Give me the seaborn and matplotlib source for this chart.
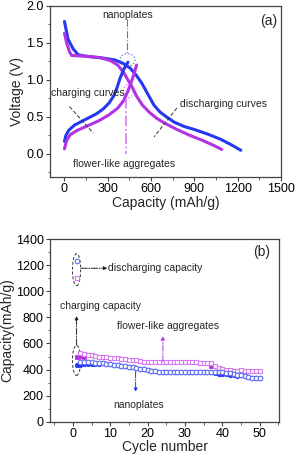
import numpy as np
import pandas as pd
import matplotlib
matplotlib.use("Agg")
import matplotlib.pyplot as plt
from matplotlib.patches import Ellipse
from matplotlib.ticker import MultipleLocator, FormatStrFormatter
import seaborn as sns

# ---- panel (a): charge/discharge profiles (capacity mAh/g, voltage V)
nano_dis_cap = [0, 25, 60, 95, 150, 250, 350, 410, 455, 495, 535, 580, 620, 660, 700,
                760, 830, 900, 990, 1080, 1150, 1222]
nano_dis_v = [1.79, 1.55, 1.42, 1.34, 1.32, 1.30, 1.27, 1.22, 1.16, 1.07, 0.96, 0.80, 0.66,
              0.57, 0.51, 0.43, 0.37, 0.33, 0.27, 0.20, 0.13, 0.05]
flower_dis_cap = [0, 15, 35, 50, 150, 250, 320, 370, 410, 440, 470, 500, 540, 590, 640,
                  700, 780, 870, 960, 1040, 1090]
flower_dis_v = [1.63, 1.50, 1.38, 1.33, 1.32, 1.30, 1.26, 1.20, 1.10, 1.00, 0.90, 0.78,
                0.66, 0.56, 0.48, 0.41, 0.33, 0.25, 0.18, 0.11, 0.06]
nano_chg_cap = [0, 10, 30, 70, 120, 170, 220, 270, 310, 340, 365, 385, 410, 440]
nano_chg_v = [0.17, 0.25, 0.32, 0.39, 0.44, 0.49, 0.54, 0.61, 0.69, 0.78, 0.90, 1.02, 1.14, 1.24]
flower_chg_cap = [0, 15, 40, 90, 160, 240, 310, 370, 410, 440, 465, 485, 500]
flower_chg_v = [0.07, 0.18, 0.26, 0.32, 0.38, 0.45, 0.53, 0.62, 0.72, 0.85, 0.98, 1.10, 1.20]

# ---- panel (b): cycling (cycle number, capacity mAh/g)
cycles = list(range(1, 51))
nano_dis = [1230, 460, 458, 455, 455, 452, 450, 447, 444, 440, 436, 432, 428, 424, 420,
            416, 412, 407, 402, 396, 390, 386, 382, 380, 378, 378, 378, 379, 380, 381,
            382, 383, 384, 384, 384, 383, 382, 381, 380, 378, 375, 372, 368, 362, 355,
            348, 342, 338, 335, 332]
nano_chg = [435, 438, 440, 442, 442, 441, 440, 447, 444, 440, 436, 432, 428, 424, 420,
            416, 412, 407, 402, 396, 390, 386, 382, 380, 378, 378, 378, 379, 380, 381,
            382, 383, 384, 384, 384, 383, 382, 372, 369, 366, 363, 360, 356, 352, 355,
            348, 342, 338, 335, 332]
flower_dis = [1100, 525, 518, 512, 508, 504, 500, 497, 494, 491, 488, 485, 482, 479, 476,
              473, 470, 466, 460, 456, 455, 455, 455, 455, 455, 455, 455, 456, 456, 456,
              456, 455, 455, 454, 453, 452, 450, 430, 415, 405, 396, 393, 392, 392, 394,
              392, 392, 391, 391, 391]
flower_chg = [500, 502, 500, 512, 508, 504, 500, 497, 494, 491, 488, 485, 482, 479, 476,
              473, 470, 466, 460, 456, 455, 455, 455, 455, 455, 455, 455, 456, 456, 456,
              456, 455, 455, 454, 453, 452, 430, 430, 415, 405, 396, 393, 392, 392, 394,
              392, 392, 391, 391, 391]

blue = "#2438f2"
mag = "#b233e4"
blue_l = "#5d6df2"
mag_l = "#d77af2"

sns.set_style("ticks")
plt.rcParams["font.family"] = ["Liberation Sans", "DejaVu Sans"]
plt.rcParams["axes.edgecolor"] = "#444444"
plt.rcParams["xtick.color"] = "#444444"
plt.rcParams["ytick.color"] = "#444444"
plt.rcParams["xtick.labelcolor"] = "black"
plt.rcParams["ytick.labelcolor"] = "black"

fig = plt.figure(figsize=(2.96, 4.57), dpi=100)
ax1 = fig.add_axes([0.169, 0.613, 0.780, 0.374])
ax2 = fig.add_axes([0.169, 0.077, 0.774, 0.400])

# ---------------- panel (a)
curves = [
    (nano_dis_cap, nano_dis_v, blue),
    (flower_dis_cap, flower_dis_v, mag),
    (nano_chg_cap, nano_chg_v, blue),
    (flower_chg_cap, flower_chg_v, mag),
]
for cap, v, c in curves:
    d = pd.DataFrame({"cap": cap, "v": v})
    sns.lineplot(data=d, x="cap", y="v", ax=ax1, color=c, lw=2.2, sort=False,
                 estimator=None)

ax1.set_xlim(-100, 1500)
ax1.set_ylim(-0.31, 2.0)
ax1.xaxis.set_major_locator(MultipleLocator(300))
ax1.xaxis.set_minor_locator(MultipleLocator(150))
ax1.yaxis.set_major_locator(MultipleLocator(0.5))
ax1.yaxis.set_minor_locator(MultipleLocator(0.25))
ax1.yaxis.set_major_formatter(FormatStrFormatter("%.1f"))
ax1.set_xlabel("Capacity (mAh/g)", fontsize=10, labelpad=1)
ax1.set_ylabel("Voltage (V)", fontsize=10, labelpad=2)

ax1.text(1417, 1.80, "(a)", fontsize=10, ha="center", va="center")
ax1.text(437, 1.88, "nanoplates", fontsize=7.5, ha="center", va="center")
ax1.plot([430, 430], [1.82, 1.35], color=blue_l, lw=0.8, ls="-.")
ax1.add_patch(Ellipse((436, 1.27), 105, 0.17, fill=False, ec=blue_l, ls=":", lw=0.9))
ax1.add_patch(Ellipse((445, 0.85), 70, 0.18, fill=False, ec=mag_l, ls=":", lw=0.9))
ax1.plot([425, 425], [0.76, 0.0], color=mag_l, lw=1.2, ls="-.")
ax1.text(412, -0.13, "flower-like aggregates", fontsize=7.5, ha="center", va="center")
ax1.text(-93, 0.82, "charging curves", fontsize=7.5, ha="left", va="center")
ax1.plot([35, 200], [0.64, 0.28], color="#333333", lw=0.7, ls=(0, (4, 2)))
ax1.text(803, 0.68, "discharging curves", fontsize=7.5, ha="left", va="center")
ax1.plot([779, 621], [0.62, 0.23], color="#333333", lw=0.7, ls=(0, (4, 2)))

# ---------------- panel (b)
dfb = pd.DataFrame({"cycle": cycles, "nano_dis": nano_dis, "nano_chg": nano_chg,
                    "flower_dis": flower_dis, "flower_chg": flower_chg})
sns.scatterplot(data=dfb, x="cycle", y="flower_chg", ax=ax2, marker="s", s=9,
                color=mag, edgecolor=mag, linewidth=0.6, zorder=2)
sns.scatterplot(data=dfb, x="cycle", y="nano_chg", ax=ax2, marker="o", s=10,
                color=blue, edgecolor=blue, linewidth=0.6, zorder=2)
sns.scatterplot(data=dfb, x="cycle", y="flower_dis", ax=ax2, marker="s", s=10,
                facecolor="white", edgecolor=mag_l, linewidth=0.8, zorder=3)
sns.scatterplot(data=dfb, x="cycle", y="nano_dis", ax=ax2, marker="o", s=11,
                facecolor="white", edgecolor=blue_l, linewidth=0.8, zorder=3)

ax2.set_xlim(-6.1, 55.2)
ax2.set_ylim(0, 1400)
ax2.xaxis.set_major_locator(MultipleLocator(10))
ax2.xaxis.set_minor_locator(MultipleLocator(5))
ax2.yaxis.set_major_locator(MultipleLocator(200))
ax2.yaxis.set_minor_locator(MultipleLocator(100))
ax2.set_xlabel("Cycle number", fontsize=10, labelpad=0)
ax2.set_ylabel("Capacity(mAh/g)", fontsize=10, labelpad=1)

ax2.text(50.4, 1303, "(b)", fontsize=10, ha="center", va="center")
ax2.add_patch(Ellipse((1, 1165), 2.2, 245, fill=False, ec="#333333", ls=(0, (3, 2)), lw=0.7))
ax2.add_patch(Ellipse((1, 470), 2.2, 230, fill=False, ec="#333333", ls=(0, (3, 2)), lw=0.7))
ax2.annotate("", xy=(9.2, 1176), xytext=(2.2, 1176),
             arrowprops=dict(arrowstyle="-|>", color="#222222", lw=0.7, ls="-.",
                             mutation_scale=5, shrinkA=0, shrinkB=0))
ax2.text(9.4, 1176, "discharging capacity", fontsize=7.5, ha="left", va="center")
ax2.annotate("", xy=(1, 810), xytext=(1, 588),
             arrowprops=dict(arrowstyle="-|>", color="#222222", lw=0.7, ls="-.",
                             mutation_scale=5, shrinkA=0, shrinkB=0))
ax2.text(-3.5, 890, "charging capacity", fontsize=7.5, ha="left", va="center")
ax2.annotate("", xy=(24.1, 655), xytext=(24.1, 461),
             arrowprops=dict(arrowstyle="-|>", color=mag, lw=0.7, ls="-.",
                             mutation_scale=5, shrinkA=0, shrinkB=0))
ax2.text(25.6, 737, "flower-like aggregates", fontsize=7.5, ha="center", va="center")
ax2.annotate("", xy=(16.8, 230), xytext=(16.8, 385),
             arrowprops=dict(arrowstyle="-|>", color=blue, lw=0.7, ls="-.",
                             mutation_scale=5, shrinkA=0, shrinkB=0))
ax2.text(17.6, 130, "nanoplates", fontsize=7.5, ha="center", va="center")

for ax in (ax1, ax2):
    ax.tick_params(axis="both", which="major", labelsize=9, length=3, width=0.8,
                   direction="out", pad=1.5)
    ax.tick_params(axis="both", which="minor", length=1.8, width=0.6, direction="out")
    for s in ax.spines.values():
        s.set_linewidth(0.9)

fig.savefig("out.png", dpi=100)
